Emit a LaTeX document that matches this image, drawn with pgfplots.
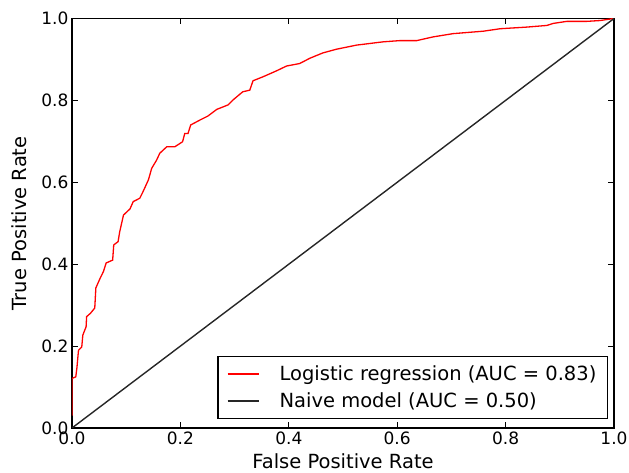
\documentclass[border=0pt]{standalone}
\usepackage{fontspec}
\setmainfont{DejaVu Sans}
\usepackage{pgfplots}
\pgfplotsset{compat=1.18}
\begin{document}
\begin{tikzpicture}
\begin{axis}[
  scale only axis,
  width=542pt, height=409.5pt,
  xmin=0, xmax=1, ymin=0, ymax=1,
  xtick={0,0.2,0.4,0.6,0.8,1.0},
  ytick={0,0.2,0.4,0.6,0.8,1.0},
  xticklabels={0.0,0.2,0.4,0.6,0.8,1.0},
  yticklabels={0.0,0.2,0.4,0.6,0.8,1.0},
  tick label style={font=\fontsize{17}{19}\selectfont},
  xlabel={False Positive Rate},
  ylabel={True Positive Rate},
  label style={font=\fontsize{19.5}{22}\selectfont},
  xlabel style={yshift=-2pt},
  ylabel style={yshift=8pt},
  axis line style={line width=1.3pt},
  tick style={line width=0.9pt, black},
  major tick length=6pt,
  tick align=inside,
  legend style={
    at={(rel axis cs:0.989,0.022)}, anchor=south east,
    font=\fontsize{19.5}{21}\selectfont,
    draw=black, line width=1.3pt,
    inner xsep=9pt, inner ysep=7pt,
    row sep=7pt,
  },
  legend cell align=left,
]
\addlegendimage{legend image code/.code={\draw[red, line width=1.5pt] (0pt,0pt) -- (31pt,0pt); \path[draw=none] (0pt,0pt) -- (50pt,0pt);}}
\addlegendentry{Logistic regression (AUC = 0.83)}
\addlegendimage{legend image code/.code={\draw[black!85, line width=1.4pt] (0pt,0pt) -- (31pt,0pt); \path[draw=none] (0pt,0pt) -- (50pt,0pt);}}
\addlegendentry{Naive model (AUC = 0.50)}
\addplot[red, line width=1.3pt, forget plot] coordinates {
(0,0.03) (0,0.121) (0.007,0.125) (0.009,0.146) (0.012,0.19) (0.018,0.198)
(0.020,0.227) (0.026,0.247) (0.027,0.272) (0.034,0.28) (0.042,0.293)
(0.044,0.342) (0.052,0.366) (0.058,0.382) (0.063,0.403) (0.075,0.41)
(0.077,0.447) (0.085,0.455) (0.088,0.479) (0.095,0.52) (0.107,0.535)
(0.113,0.553) (0.125,0.561) (0.131,0.577) (0.141,0.606) (0.147,0.634)
(0.156,0.654) (0.162,0.671) (0.175,0.687) (0.190,0.687) (0.204,0.699)
(0.208,0.719) (0.214,0.719) (0.219,0.740) (0.236,0.752) (0.251,0.762)
(0.267,0.778) (0.288,0.789) (0.297,0.801) (0.315,0.821) (0.328,0.825)
(0.334,0.848) (0.353,0.858) (0.377,0.872) (0.396,0.884) (0.420,0.890)
(0.439,0.903) (0.463,0.916) (0.488,0.925) (0.525,0.935) (0.574,0.943)
(0.605,0.946) (0.636,0.946) (0.666,0.955) (0.703,0.963) (0.759,0.969)
(0.790,0.975) (0.839,0.979) (0.876,0.983) (0.888,0.988) (0.913,0.993)
(0.950,0.993) (0.974,0.995) (1.0,1.0)
};
\addplot[black!85, line width=1.4pt, forget plot] coordinates {(0,0) (1,1)};
\end{axis}
\pgfresetboundingbox
\path[use as bounding box] ([shift={(-72pt,-45pt)}]current axis.south west) rectangle ([shift={(15pt,18.5pt)}]current axis.north east);
\end{tikzpicture}
\end{document}
